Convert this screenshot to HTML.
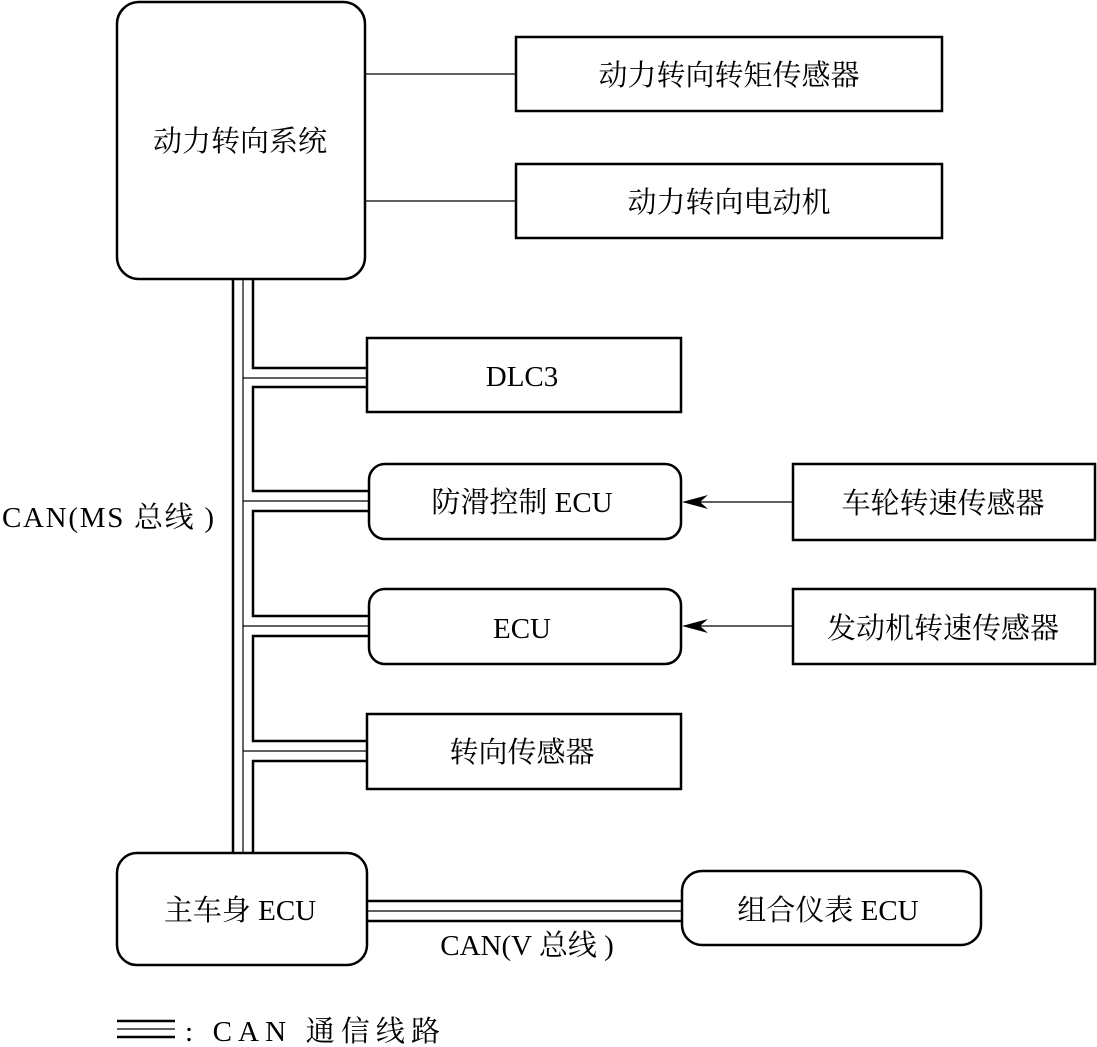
<!DOCTYPE html>
<html><head><meta charset="utf-8"><style>
html,body{margin:0;padding:0;background:#fff;}
svg{display:block;}
text{font-family:"Liberation Serif","Noto Serif CJK SC","Noto Sans CJK SC",serif;font-size:29px;fill:#000;}
</style></head><body>
<svg width="1097" height="1047" viewBox="0 0 1097 1047" xmlns="http://www.w3.org/2000/svg">
<g fill="none" stroke="#000" stroke-width="2.5">
<rect x="117" y="2" width="248" height="277" rx="22"/>
<rect x="516" y="37" width="426" height="74"/>
<rect x="516" y="164" width="426" height="74"/>
<rect x="367" y="338" width="314" height="74"/>
<rect x="369" y="464" width="312" height="75" rx="16"/>
<rect x="793" y="464" width="302" height="76"/>
<rect x="369" y="589" width="312" height="75" rx="16"/>
<rect x="793" y="589" width="302" height="75"/>
<rect x="367" y="714" width="314" height="75"/>
<rect x="117" y="853" width="250" height="112" rx="20"/>
<rect x="682" y="871" width="299" height="74" rx="20"/>
<line x1="233" y1="279" x2="233" y2="853"/>
<polyline points="253,279 253,368 367,368"/>
<polyline points="367,387 253,387 253,491 369,491"/>
<polyline points="369,511 253,511 253,616 369,616"/>
<polyline points="369,636 253,636 253,741 367,741"/>
<polyline points="367,761 253,761 253,853"/>
<line x1="367" y1="901" x2="682" y2="901"/>
<line x1="367" y1="921" x2="682" y2="921"/>
<line x1="117" y1="1021" x2="175" y2="1021"/>
<line x1="117" y1="1037" x2="175" y2="1037"/>
</g>
<g fill="none" stroke="#000" stroke-width="1.2">
<line x1="243" y1="279" x2="243" y2="853"/>
<line x1="243" y1="378" x2="367" y2="378"/>
<line x1="243" y1="501" x2="369" y2="501"/>
<line x1="243" y1="626" x2="369" y2="626"/>
<line x1="243" y1="751" x2="367" y2="751"/>
<line x1="367" y1="911" x2="682" y2="911"/>
<line x1="117" y1="1029" x2="175" y2="1029"/>
<line x1="365" y1="74" x2="516" y2="74"/>
<line x1="365" y1="201" x2="516" y2="201"/>
<line x1="695" y1="502" x2="793" y2="502"/>
<line x1="695" y1="626" x2="793" y2="626"/>
</g>
<path d="M682,502 L708,495 L700,502 L708,509 Z" fill="#000"/>
<path d="M682,626 L708,619 L700,626 L708,633 Z" fill="#000"/>
<g text-anchor="middle">
<text x="240" y="151">动力转向系统</text>
<text x="729" y="85">动力转向转矩传感器</text>
<text x="729" y="212">动力转向电动机</text>
<text x="522" y="386">DLC3</text>
<text x="522" y="512">防滑控制 ECU</text>
<text x="943" y="513">车轮转速传感器</text>
<text x="522" y="638">ECU</text>
<text x="943" y="638">发动机转速传感器</text>
<text x="522" y="762">转向传感器</text>
<text x="240" y="920">主车身 ECU</text>
<text x="828" y="920">组合仪表 ECU</text>
<text x="527" y="955">CAN(V 总线 )</text>
<text x="108" y="527" textLength="212">CAN(MS 总线 )</text>
</g>
<text x="185" y="1041" textLength="255">: CAN 通信线路</text>
</svg>
</body></html>
